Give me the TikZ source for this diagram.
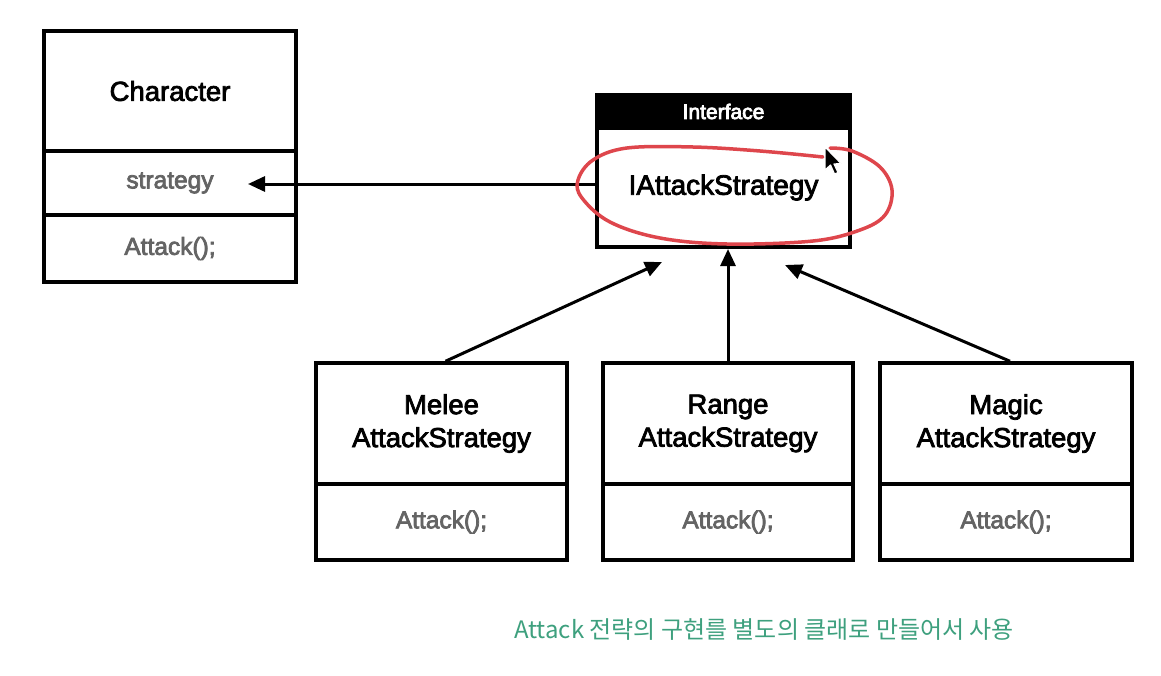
\documentclass[tikz,border=0pt]{standalone}
\usepackage{fontspec}
\setmainfont{Liberation Sans}
\newfontfamily\krfont{Noto Sans CJK KR}
\newcommand\medweight{\special{pdf:literal direct 2 Tr 0.75 w}}
\newcommand\medweightb{\special{pdf:literal direct 0 g 0 G 2 Tr 0.8 w}}
\usetikzlibrary{arrows.meta}
\definecolor{txtgray}{RGB}{100,100,100}
\definecolor{notegreen}{RGB}{62,160,126}
\definecolor{markred}{RGB}{222,70,76}
\tikzset{
  box/.style={draw=black, line width=3.5pt, fill=white, inner sep=0pt, align=center},
  ttl/.style={box, font=\fontsize{27.5}{33}\selectfont\medweight},
  mem/.style={box, text=txtgray, font=\fontsize{24.5}{28}\selectfont\medweight},
  arr/.style={line width=3pt, -{Triangle[length=17pt,width=15pt]}},
}
\begin{document}
\begin{tikzpicture}[x=1pt,y=-1pt]
\useasboundingbox (0,0) rectangle (1161,675);
% Character
\node[ttl, minimum width=252pt, minimum height=120pt] (chr) at (170,91) {Character};
\node[mem, minimum width=252pt, minimum height=64pt] (strat) at (170,183) {strategy};
\node[mem, minimum width=252pt, minimum height=67pt] (chratk) at (170,248.5) {Attack();};
% Interface
\node[box, fill=black, minimum width=253pt, minimum height=33pt, text=white, font=\fontsize{21}{24}\selectfont\medweight] (ihead) at (723.5,111.5) {Interface};
\node[box, minimum width=253pt, minimum height=119pt, font=\fontsize{28}{33}\selectfont] (ibody) at (723.5,187.5) {\medweightb\raisebox{-1.5pt}{IAttackStrategy}};
% Subclasses
\node[ttl, minimum width=251pt, minimum height=121pt] (melee) at (441.5,423.5) {Melee\\AttackStrategy};
\node[mem, minimum width=251pt, minimum height=76pt] (meleeatk) at (441.5,522) {Attack();};
\node[ttl, minimum width=250pt, minimum height=121pt] (range) at (728,423.5) {Range\\AttackStrategy};
\node[mem, minimum width=250pt, minimum height=76pt] (rangeatk) at (728,522) {Attack();};
\node[ttl, minimum width=252pt, minimum height=121pt] (magic) at (1006,423.5) {Magic\\AttackStrategy};
\node[mem, minimum width=252pt, minimum height=76pt] (magicatk) at (1006,522) {Attack();};
% connectors
\coordinate (stip) at (248,184);
\coordinate (mtip) at (662,262);
\coordinate (rtip) at (728,249);
\coordinate (gtip) at (785,265);
\draw[arr] (ibody.west |- stip) -- (stip);
\draw[arr] ([xshift=4pt]melee.north) -- (mtip);
\draw[arr] (range.north) -- (rtip);
\draw[arr] ([xshift=4pt]magic.north) -- (gtip);
% red hand-drawn mark
\draw[markred, line width=3.5pt, line cap=round] plot[smooth, tension=0.6] coordinates {
 (823,157) (760,151) (693,147) (627,148) (593,160) (578,180) (582,198) (610,222)
 (660,238) (727,244) (813,241) (860,230) (885,215) (892,190) (880,167) (852,151) (830,148)};
% mouse cursor
\draw[fill=black, draw=white, line width=1.2pt, line join=round]
 (825,147) -- (825,170) -- (830.5,165) -- (834.5,174) -- (838,172.5) -- (834,164) -- (841,163.5) -- cycle;
% note
\node[text=notegreen, font=\krfont\fontsize{24}{28}\selectfont, inner sep=0pt] (note) at (764,630) {Attack 전략의 구현를 별도의 클래로 만들어서 사용};
\end{tikzpicture}
\end{document}
